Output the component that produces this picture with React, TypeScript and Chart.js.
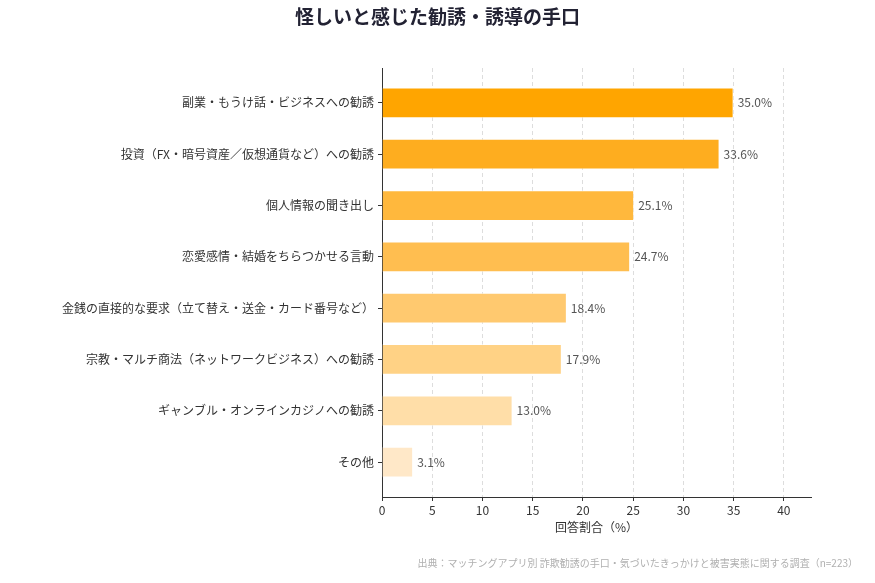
import React, { useEffect, useRef } from "react";
import { Chart, registerables } from "chart.js";

Chart.register(...registerables);

const TITLE = "怪しいと感じた勧誘・誘導の手口";
const X_TITLE = "回答割合（%）";
const SOURCE = "出典：マッチングアプリ別 詐欺勧誘の手口・気づいたきっかけと被害実態に関する調査（n=223）";

const categories = [
  "副業・もうけ話・ビジネスへの勧誘",
  "投資（FX・暗号資産／仮想通貨など）への勧誘",
  "個人情報の聞き出し",
  "恋愛感情・結婚をちらつかせる言動",
  "金銭の直接的な要求（立て替え・送金・カード番号など）",
  "宗教・マルチ商法（ネットワークビジネス）への勧誘",
  "ギャンブル・オンラインカジノへの勧誘",
  "その他",
];

const shares = [35.0, 33.6, 25.1, 24.7, 18.4, 17.9, 13.0, 3.1];

const barColors = [
  "#FFA500",
  "#FEAD1F",
  "#FFB83D",
  "#FFBE50",
  "#FFC96F",
  "#FFD285",
  "#FFDEA8",
  "#FFE8C8",
];

const xTicks = [0, 5, 10, 15, 20, 25, 30, 35, 40];

const FONT = "'Noto Sans CJK JP', 'Noto Sans', sans-serif";

const textPlugin = {
  id: "textPlugin",
  afterDraw(chart: any) {
    const ctx = chart.ctx;
    const area = chart.chartArea;
    ctx.save();
    // title
    ctx.fillStyle = "#222233";
    ctx.font = `bold 19px ${FONT}`;
    ctx.textAlign = "center";
    ctx.textBaseline = "middle";
    ctx.fillText(TITLE, chart.width / 2, 17);

    // x axis title
    ctx.fillStyle = "#333333";
    ctx.font = `12px ${FONT}`;
    ctx.fillText(X_TITLE, (area.left + area.right) / 2, 527);

    // source note
    ctx.fillStyle = "#b0b0b0";
    ctx.font = `10px ${FONT}`;
    ctx.textAlign = "right";
    ctx.fillText(SOURCE, 858, 563);

    // value labels
    const meta = chart.getDatasetMeta(0);
    ctx.fillStyle = "#555555";
    ctx.font = `12px ${FONT}`;
    ctx.textAlign = "left";
    meta.data.forEach((bar: any, i: number) => {
      ctx.fillText(shares[i].toFixed(1) + "%", bar.x + 4, bar.y);
    });
    ctx.restore();
  },
};

export default function App() {
  const ref = useRef<HTMLCanvasElement>(null);

  useEffect(() => {
    if (!ref.current) return;
    const chart = new Chart(ref.current, {
      type: "bar",
      data: {
        datasets: [
          {
            data: shares.map((v, i) => ({ x: v, y: i })),
            backgroundColor: barColors,
            borderColor: "rgba(255,255,255,0.6)",
            borderWidth: 1,
            barPercentage: 0.6,
            categoryPercentage: 1,
          },
        ],
      },
      options: {
        indexAxis: "y",
        responsive: false,
        animation: false,
        layout: { padding: { left: 0, right: 64, top: 68, bottom: 0 } },
        plugins: {
          legend: { display: false },
          tooltip: { enabled: false },
          title: { display: false },
        },
        scales: {
          x: {
            type: "linear",
            min: 0,
            max: 42.7,
            afterFit: (axis: any) => {
              axis.height = 86;
            },
            afterBuildTicks: (axis: any) => {
              axis.ticks = xTicks.map((v) => ({ value: v }));
            },
            ticks: {
              color: "#333333",
              font: { family: FONT, size: 12 },
              padding: 2,
              maxRotation: 0,
            },
            grid: {
              color: (c: any) => (c.tick && c.tick.value === 0 ? "rgba(0,0,0,0)" : "#dddddd"),
              tickColor: "#333333",
              tickLength: 4,
              lineWidth: 1,
            },
            border: { display: true, color: "#333333", width: 1, dash: [4, 3] },
          },
          y: {
            type: "linear",
            reverse: true,
            offset: false,
            min: -0.68,
            max: 7.68,
            afterFit: (axis: any) => {
              axis.width = 382;
            },
            afterBuildTicks: (axis: any) => {
              axis.ticks = categories.map((_, i) => ({ value: i }));
            },
            ticks: {
              color: "#333333",
              font: { family: FONT, size: 12 },
              padding: 4,
              callback: (v: any) => categories[v as number] ?? "",
            },
            grid: {
              offset: false,
              drawOnChartArea: false,
              color: "#333333",
              tickLength: 4,
            },
            border: { display: true, color: "#333333", width: 1 },
          },
        },
      } as any,
      plugins: [textPlugin],
    });
    return () => chart.destroy();
  }, []);

  return (
    <div style={{ position: "absolute", left: 0, top: 0, width: 875, height: 583, background: "#ffffff" }}>
      <canvas ref={ref} width={875} height={583} />
    </div>
  );
}
